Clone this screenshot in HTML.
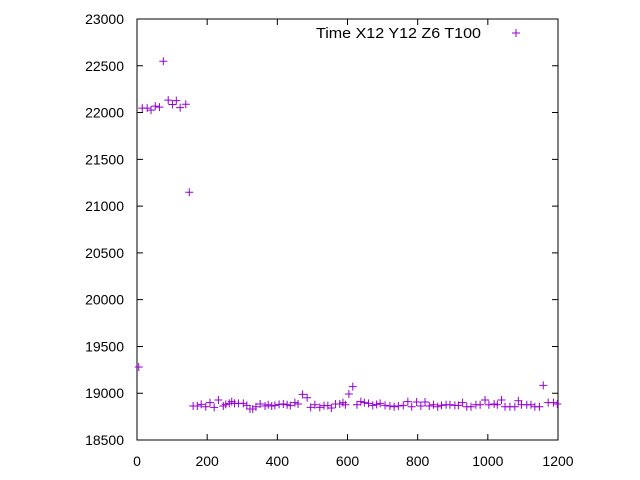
<!DOCTYPE html>
<html><head><meta charset="utf-8"><style>
body{margin:0;background:#fff}
svg{display:block;font-family:"Liberation Sans",sans-serif;font-size:14px}
</style></head><body>
<svg id="chart" width="640" height="480" viewBox="0 0 640 480">
<rect x="0" y="0" width="640" height="480" fill="#fff"/>
<g id="axes"></g>
<g id="pts"></g>
<g>
<text x="316" y="38" textLength="165" lengthAdjust="spacingAndGlyphs" style="font-size:15px" fill="#000">Time X12 Y12 Z6 T100</text>
<path d="M512 33h8M516 29v8" stroke="#9400d3" stroke-width="1"/>
</g>
</svg>
<script>
const xTicks=[0,200,400,600,800,1000,1200];
const yTicks=[18500,19000,19500,20000,20500,21000,21500,22000,22500,23000];
const xs=[5,15,29,40,52,64,75,89,101,112,123,139,149,
160,172,183,196,208,220,232,246,253,263,270,278,289,303,313,322,330,339,351,365,374,384,393,405,417,428,437,450,459,472,485,495,507,521,533,544,554,566,578,587,594,604,615,627,638,648,660,672,683,
693,707,721,733,745,759,772,783,797,809,821,833,845,857,868,881,892,906,916,928,940,952,966,978,992,1003,1018,1027,1039,1049,1063,1077,1087,1096,1111,1123,1134,1147,1158,1172,1187,1198];
const ys=[19280,22048,22048,22026,22069,22058,22548,22133,22086,22128,22053,22089,21148,
18863,18863,18881,18856,18899,18849,18927,18863,18881,18892,18910,18892,18892,18892,18870,18831,18831,18856,18885,18863,18877,18863,18870,18881,18885,18877,18867,18899,18885,18988,18952,18849,18877,18849,18867,18867,18842,18885,18885,18899,18877,18992,19070,18877,18910,18899,18892,18870,18881,
18892,18870,18863,18856,18863,18870,18910,18856,18906,18863,18906,18863,18877,18856,18870,18877,18877,18870,18870,18899,18856,18856,18877,18877,18928,18877,18885,18877,18928,18856,18856,18856,18920,18877,18877,18877,18856,18856,19084,18899,18899,18885];
const L=137,R=558,T=19,B=440;
const sx=v=>L+(v-0)*(R-L)/1200, sy=v=>B-(v-18500)*(B-T)/4500;
const NS="http://www.w3.org/2000/svg";
const ax=document.getElementById('axes');
function mk(tag,at,parent){const e=document.createElementNS(NS,tag);for(const k in at)e.setAttribute(k,at[k]);parent.appendChild(e);return e;}
const bd=mk('rect',{x:L,y:T,width:R-L,height:B-T,fill:'none',stroke:'#000','stroke-width':1},ax);


xTicks.forEach(v=>{const x=sx(v);
 const t=mk('path',{d:`M${x} ${B}v-6M${x} ${T}v6`,stroke:'#000'},ax);
 
 
 const l=mk('text',{x:x,y:466,'text-anchor':'middle',fill:'#000'},ax);l.textContent=v;
 
 });
yTicks.forEach(v=>{const y=sy(v);
 const t=mk('path',{d:`M${L} ${y}h6M${R} ${y}h-6`,stroke:'#000'},ax);
 
 
 const l=mk('text',{x:124,y:y+5,'text-anchor':'end',fill:'#000'},ax);l.textContent=v;
 
 });
const pg=document.getElementById('pts');
xs.forEach((v,i)=>{const x=sx(v),y=sy(ys[i]);
 const p=mk('path',{d:`M${x-4} ${y}h8M${x} ${y-4}v8`,stroke:'#9400d3','stroke-width':1},pg);
 
 });
</script>
</body></html>
